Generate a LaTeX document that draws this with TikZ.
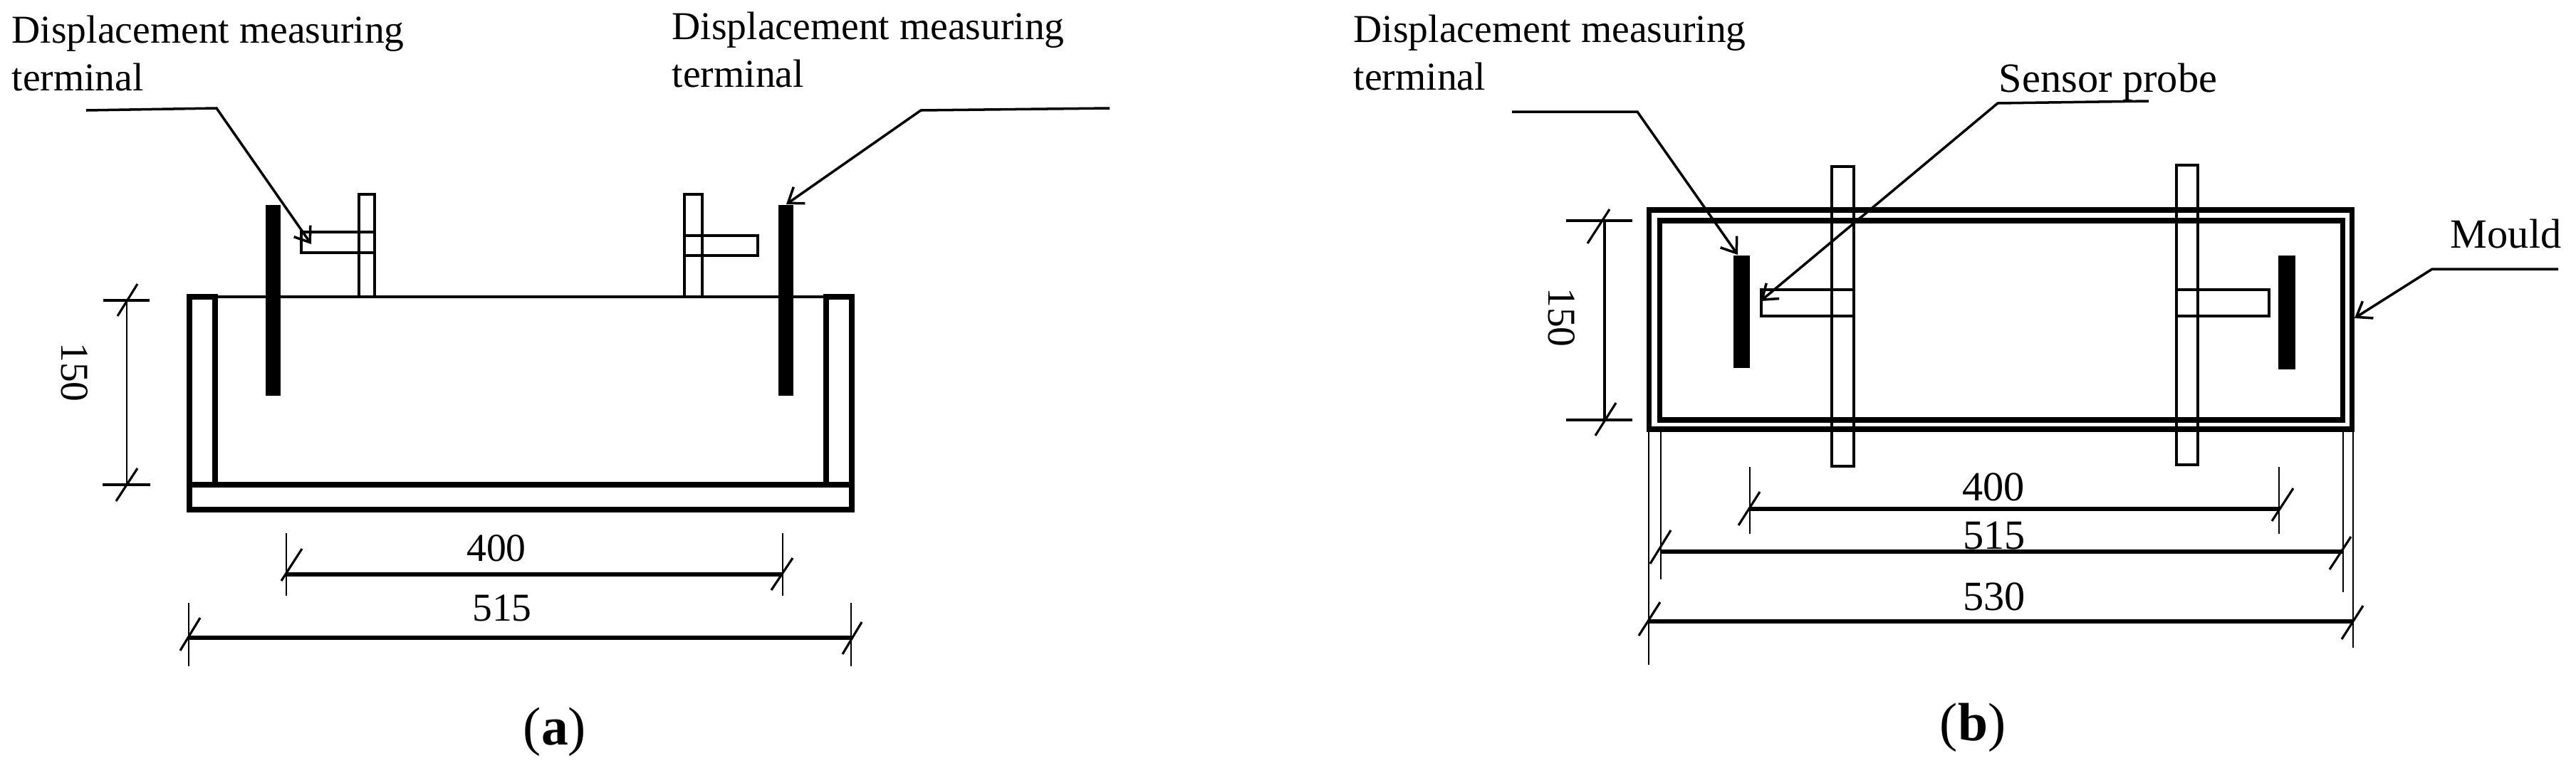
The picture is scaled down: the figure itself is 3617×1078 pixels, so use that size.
\documentclass[tikz,border=0pt]{standalone}
\usepackage{fontspec}
\setmainfont{Liberation Serif}
\usetikzlibrary{arrows.meta}
\tikzset{
  label_text/.style={font=\fontsize{15.8}{19}\selectfont, inner sep=0pt},
  large_text/.style={font=\fontsize{16.6}{20}\selectfont, inner sep=0pt},
  caption_text/.style={font=\fontsize{21.5}{25}\selectfont, inner sep=0pt},
  wall/.style={line width=2pt},
  rod/.style={line width=1.2pt},
  edge_line/.style={line width=1pt},
  dim_line/.style={line width=1.6pt},
  ext_line/.style={line width=0.7pt},
  slash/.style={line width=0.9pt},
  leader/.style={line width=1pt, arrows = {-Straight Barb[width=8pt, length=5.5pt]}}
}
\begin{document}
\begin{tikzpicture}[x=0.01cm, y=-0.01cm]
\useasboundingbox (0, 0) rectangle (3617, 1078);
\fill[white] (0, 0) rectangle (3617, 1078);
\draw[edge_line] (302, 417) -- (1158, 417);
\draw[wall] (266, 417) rectangle (302, 681);
\draw[wall] (1160, 417) rectangle (1196, 681);
\draw[wall] (266, 681) rectangle (1196, 716);
\draw[rod] (504, 417) -- (504, 273) -- (526, 273) -- (526, 417);
\draw[rod] (961, 417) -- (961, 273) -- (986, 273) -- (986, 417);
\draw[rod] (526, 326) -- (423, 326) -- (423, 355) -- (526, 355);
\draw[rod] (961, 331) -- (1064, 331) -- (1064, 359) -- (961, 359);
\fill (373, 288) rectangle (394, 556);
\fill (1093, 288) rectangle (1114, 556);
\coordinate (leader_a1_start) at (121, 155);
\coordinate (leader_a1_knee) at (304, 152);
\coordinate (leader_a1_tip) at (437, 343);
\draw[leader] (leader_a1_start) -- (leader_a1_knee) -- (leader_a1_tip);
\coordinate (leader_a2_start) at (1558, 152);
\coordinate (leader_a2_knee) at (1293, 155);
\coordinate (leader_a2_tip) at (1104, 287);
\draw[leader] (leader_a2_start) -- (leader_a2_knee) -- (leader_a2_tip);
\node[label_text, align=left, anchor=north west] (terminal_a1) at (16, 21) {Displacement measuring\\terminal};
\node[label_text, align=left, anchor=north west] (terminal_a2) at (943, 16) {Displacement measuring\\terminal};
\draw[ext_line] (178, 422) -- (178, 681);
\draw[edge_line] (145, 422) -- (210, 422);
\draw[edge_line] (144, 681) -- (211, 681);
\draw[slash] (193, 399) -- (165, 444);
\draw[slash] (193, 658) -- (163, 704);
\node[label_text, rotate=-90] (height_a) at (105, 523) {150};
\draw[ext_line] (402, 749) -- (402, 837);
\draw[ext_line] (1099, 749) -- (1099, 837);
\draw[dim_line] (402, 807) -- (1099, 807);
\draw[slash] (424, 771) -- (395, 816);
\draw[slash] (1113, 784) -- (1083, 829);
\node[label_text] (gap_a) at (697, 770) {400};
\draw[ext_line] (265, 847) -- (265, 936);
\draw[ext_line] (1195, 847) -- (1195, 936);
\draw[dim_line] (265, 896) -- (1195, 896);
\draw[slash] (281, 868) -- (253, 914);
\draw[slash] (1210, 874) -- (1183, 919);
\node[label_text] (width_a) at (705, 854) {515};
\node[caption_text] (caption_a) at (779, 1028) {(\textbf{a})};
\draw[wall] (2315, 295) rectangle (3302, 603);
\draw[wall] (2330, 310) rectangle (3289, 590);
\draw[rod] (2572, 234) rectangle (2603, 655);
\draw[rod] (3056, 232) rectangle (3086, 653);
\draw[rod] (2603, 407) -- (2473, 407) -- (2473, 444) -- (2603, 444);
\draw[rod] (3056, 407) -- (3186, 407) -- (3186, 444) -- (3056, 444);
\fill (2434, 359) rectangle (2457, 517);
\fill (3199, 359) rectangle (3223, 519);
\coordinate (leader_b1_start) at (2123, 157);
\coordinate (leader_b1_knee) at (2299, 157);
\coordinate (leader_b1_tip) at (2440, 358);
\draw[leader] (leader_b1_start) -- (leader_b1_knee) -- (leader_b1_tip);
\coordinate (leader_b2_start) at (3017, 142);
\coordinate (leader_b2_knee) at (2805, 145);
\coordinate (leader_b2_tip) at (2472, 423);
\draw[leader] (leader_b2_start) -- (leader_b2_knee) -- (leader_b2_tip);
\coordinate (leader_b3_start) at (3592, 378);
\coordinate (leader_b3_knee) at (3415, 378);
\coordinate (leader_b3_tip) at (3306, 447);
\draw[leader] (leader_b3_start) -- (leader_b3_knee) -- (leader_b3_tip);
\node[label_text, align=left, anchor=north west] (terminal_b) at (1900, 20) {Displacement measuring\\terminal};
\node[large_text, anchor=base west] (probe_b) at (2806, 129) {Sensor probe};
\node[large_text, anchor=base west] (mould_b) at (3440, 348) {Mould};
\draw[edge_line] (2253, 310) -- (2253, 590);
\draw[edge_line] (2199, 310) -- (2292, 310);
\draw[edge_line] (2199, 590) -- (2292, 590);
\draw[slash] (2260, 294) -- (2229, 342);
\draw[slash] (2269, 566) -- (2240, 612);
\node[label_text, rotate=-90] (height_b) at (2193, 446) {150};
\draw[ext_line] (2457, 656) -- (2457, 750);
\draw[ext_line] (3200, 656) -- (3200, 750);
\draw[dim_line] (2457, 715) -- (3200, 715);
\draw[slash] (2471, 691) -- (2441, 738);
\draw[slash] (3220, 686) -- (3190, 732);
\node[large_text] (gap_b) at (2799, 684) {400};
\draw[ext_line] (2332, 603) -- (2332, 814);
\draw[ext_line] (3290, 603) -- (3290, 832);
\draw[dim_line] (2332, 775) -- (3290, 775);
\draw[slash] (2346, 745) -- (2317, 792);
\draw[slash] (3301, 754) -- (3271, 800);
\node[large_text] (inner_b) at (2800, 753) {515};
\draw[ext_line] (2315, 603) -- (2315, 934);
\draw[ext_line] (3304, 603) -- (3304, 910);
\draw[dim_line] (2315, 873) -- (3304, 873);
\draw[slash] (2331, 846) -- (2301, 893);
\draw[slash] (3318, 851) -- (3288, 898);
\node[large_text] (outer_b) at (2800, 838) {530};
\node[caption_text] (caption_b) at (2770, 1022) {(\textbf{b})};
\end{tikzpicture}
\end{document}
